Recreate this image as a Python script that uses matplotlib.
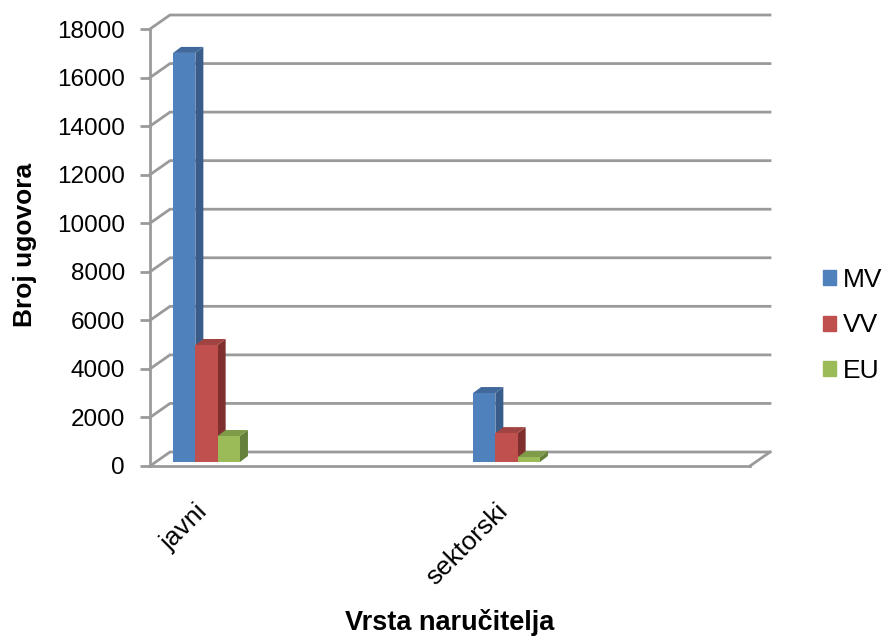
import matplotlib
matplotlib.use("Agg")
import matplotlib.pyplot as plt
from matplotlib.patches import Patch
from matplotlib.transforms import ScaledTranslation

plt.rcParams['font.family'] = ['Liberation Sans', 'DejaVu Sans']

# data
categories = ["javni", "sektorski"]
series_names = ["MV", "VV", "EU"]
mv = [16850, 2840]
vv = [4820, 1190]
eu = [1070, 200]
y_ticks = list(range(0, 18001, 2000))

front_colors = ["#4f81bd", "#c0504d", "#9bbb59"]
side_colors = ["#385d8a", "#7f2f2d", "#64803a"]
top_colors = ["#41699c", "#a04341", "#7f9b48"]
grid_color = "#9a9a9a"

W, H = 885, 638
fig = plt.figure(figsize=(W / 100, H / 100), dpi=100)

# front frame of the fake 3d box, in pixels
left, right, top, bottom = 150, 750, 29, 466
ax = fig.add_axes([left / W, 1 - bottom / H, (right - left) / W, (bottom - top) / H])
ax.set_xlim(-56.5 / 300, 1 + 243.5 / 300)
ax.set_ylim(0, 18000)

# pixels -> data
px_x = (ax.get_xlim()[1] - ax.get_xlim()[0]) / (right - left)
px_y = 18000 / (bottom - top)
wall_dx, wall_dy = 20 * px_x, 14 * px_y
xmin, xmax = ax.get_xlim()

# back wall and side wall
for v in y_ticks:
    ax.plot([xmin, xmin + wall_dx, xmax + wall_dx], [v, v + wall_dy, v + wall_dy],
            color=grid_color, lw=2, clip_on=False, zorder=1, solid_joinstyle="miter")
ax.plot([xmax, xmax + wall_dx], [0, wall_dy], color=grid_color, lw=2, clip_on=False, zorder=1)

# bars
bar_w = 22.3 * px_x
lift = 4 * px_y
d_x, d_y = 8 * px_x, 6 * px_y
for i, vals in enumerate([mv, vv, eu]):
    for j, v in enumerate(vals):
        x0 = j + (i - 1.5) * bar_w
        x1 = x0 + bar_w
        y0 = lift
        y1 = lift + v
        ax.fill([x1, x1 + d_x, x1 + d_x, x1], [y0, y0 + d_y, y1 + d_y, y1],
                color=side_colors[i], lw=0, clip_on=False, zorder=3 + i)
        ax.fill([x0, x0 + d_x, x1 + d_x, x1], [y1, y1 + d_y, y1 + d_y, y1],
                color=top_colors[i], lw=0, clip_on=False, zorder=3 + i)
        ax.bar(x0, v, width=bar_w, bottom=y0, align="edge", color=front_colors[i],
               clip_on=False, zorder=3 + i)

for s in ["top", "right"]:
    ax.spines[s].set_visible(False)
for s in ["left", "bottom"]:
    ax.spines[s].set_color(grid_color)
    ax.spines[s].set_linewidth(2)
    ax.spines[s].set_zorder(2)
ax.patch.set_alpha(0)

ax.set_yticks(y_ticks)
ax.tick_params(axis="y", length=7, width=2, color=grid_color, labelsize=17.5, pad=11)
ax.set_xticks([0, 1])
ax.set_xticklabels(categories, rotation=45, ha="right", va="top", rotation_mode="anchor", fontsize=19)
ax.tick_params(axis="x", length=0, pad=24)
shift = ScaledTranslation(-11 / 100, 0, fig.dpi_scale_trans)
for lab in ax.get_xticklabels():
    lab.set_transform(lab.get_transform() + shift)
ax.set_ylabel("Broj ugovora", fontsize=19, fontweight="bold")
ax.yaxis.set_label_coords(-113 / 600, 0.505)
fig.text(450 / W, 1 - 622 / H, "Vrsta naručitelja", fontsize=19.5, fontweight="bold", ha="center", va="center")

handles = [Patch(color=c) for c in front_colors]
fig.legend(handles, series_names, loc="center left", bbox_to_anchor=(823 / W, 1 - 325.5 / H),
           frameon=False, fontsize=19, handlelength=0.5, handleheight=0.5,
           handletextpad=0.25, labelspacing=0.815, borderpad=0, borderaxespad=0)

fig.savefig("out.png", dpi=100)
